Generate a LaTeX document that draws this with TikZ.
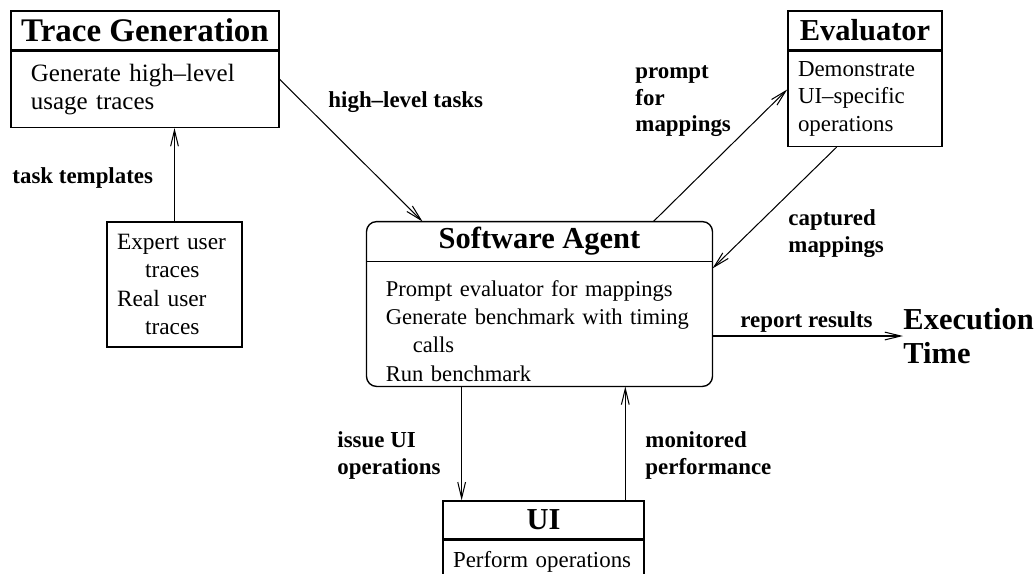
\documentclass[tikz,border=0pt]{standalone}
\usepackage{fontspec}
\setmainfont{Liberation Serif}
\usepackage{tikz}
\usetikzlibrary{calc}
\usetikzlibrary{arrows.meta}

\begin{document}
\begin{tikzpicture}[x=0.4367pt,y=-0.4367pt,
	box/.style={draw,line width=0.6pt,inner sep=0pt},
	boxtitle/.style={minimum height=17pt,inner sep=0pt,font=\fontsize{13.3}{16}\selectfont\bfseries},
	boxbody/.style={align=left,inner ysep=0pt,font=\fontsize{10}{12}\selectfont},
	flowlabel/.style={align=left,inner sep=0pt,font=\fontsize{10}{11.7}\selectfont\bfseries},
	flow/.style={line width=0.45pt,-{Straight Barb[length=7pt,width=3.4pt]}}]
			\useasboundingbox (0,0) rectangle (1036,573);
			\clip (0,0) rectangle (1036,573);
			% boxes
			\node[box,boxtitle,minimum width=117pt,font=\fontsize{14.4}{16}\selectfont\bfseries] (tgtitle) at (145,30.5) {Trace Generation};
			\node[box,boxbody,text width=99.6pt,inner xsep=8.7pt,minimum height=33.2pt,anchor=north,font=\fontsize{10.9}{12}\selectfont] (tgbody) at (tgtitle.south) {Generate high--level\\usage traces};
			\node[box,boxbody,text width=50.2pt,inner xsep=4.4pt,minimum height=54.6pt,font=\fontsize{10.2}{12.5}\selectfont] (expert) at (174.5,284.5)
			{Expert user\\\hspace*{1.2em}traces\\Real user\\\hspace*{1.2em}traces};
			\node[box,boxtitle,minimum width=67.3pt] (evtitle) at (865,30.5) {Evaluator};
			\node[box,boxbody,text width=58.5pt,inner xsep=4.4pt,minimum height=41.5pt,anchor=north] (evbody) at (evtitle.south) {Demonstrate\\UI--specific\\operations};
			\node[boxtitle,minimum width=150.7pt] (agtitle) at (539.5,241.5) {Software Agent};
			\node[boxbody,text width=138pt,inner xsep=6.35pt,minimum height=48.2pt,anchor=north,yshift=-6pt,font=\fontsize{9.85}{12.4}\selectfont] (agbody) at (agtitle.south)
			{\hspace*{1.9pt}Prompt evaluator for mappings\\\hspace*{1.9pt}Generate benchmark with timing\\\hspace*{1.9pt}\hspace*{1.2em}calls\\\hspace*{1.9pt}Run benchmark};
			\draw[line width=0.6pt,rounded corners=4.4pt] (agtitle.north west) rectangle (agbody.south east);
			\draw[line width=0.6pt] (agtitle.south west) -- (agtitle.south east);
			\node[box,boxtitle,minimum width=87.8pt,minimum height=16.6pt] (uititle) at (543.5,520) {UI};
			\node[box,boxbody,text width=79pt,inner xsep=4.4pt,minimum height=19pt,anchor=north] (uibody) at (uititle.south) {Perform operations};
			\node[flowlabel,font=\fontsize{13.3}{14.8}\selectfont\bfseries,anchor=west] (exectime) at (903,336) {Execution\\Time};
			% arrow ends
			\coordinate (tgout) at ([yshift=4.4pt]tgbody.east);
			\coordinate (agin) at ($(agtitle.north west)!0.162!(agtitle.north east)$);
			\coordinate (agprompt) at ($(agtitle.north west)!0.829!(agtitle.north east)$);
			\coordinate (evin) at ([yshift=4.1pt]evbody.west);
			\coordinate (evout) at ($(evbody.south west)!0.318!(evbody.south east)$);
			\coordinate (agcapt) at ($(agtitle.south east)!0.056!(agbody.south east)$);
			\coordinate (agissue) at ($(agbody.south west)!0.275!(agbody.south east)$);
			\coordinate (agmon) at ($(agbody.south west)!0.748!(agbody.south east)$);
			\draw[flow] (expert.north) -- (expert.north |- tgbody.south);
			\draw[flow] (tgout) -- (agin);
			\draw[flow] (agprompt) -- (evin);
			\draw[flow] (evout) -- (agcapt);
			\draw[flow] (agbody.east |- exectime.west) -- (exectime.west);
			\draw[flow] (agissue) -- (agissue |- uititle.north);
			\draw[flow] (agmon |- uititle.north) -- (agmon);
			% labels
			\node[flowlabel,anchor=base west] (tasktpl) at (12,183) {task templates};
			\node[flowlabel,anchor=base west] (hltasks) at (328,107) {high--level tasks};
			\node[flowlabel,anchor=north west] (promptlbl) at (635,65) {prompt\\for\\mappings};
			\node[flowlabel,anchor=north west] (captlbl) at (788,209) {captured\\mappings};
			\node[flowlabel,anchor=base west] (reportlbl) at (740,327) {report results};
			\node[flowlabel,anchor=north west] (issuelbl) at (337,431) {issue UI\\operations};
			\node[flowlabel,anchor=north west] (monlbl) at (645,431) {monitored\\performance};
		\end{tikzpicture}
\end{document}
